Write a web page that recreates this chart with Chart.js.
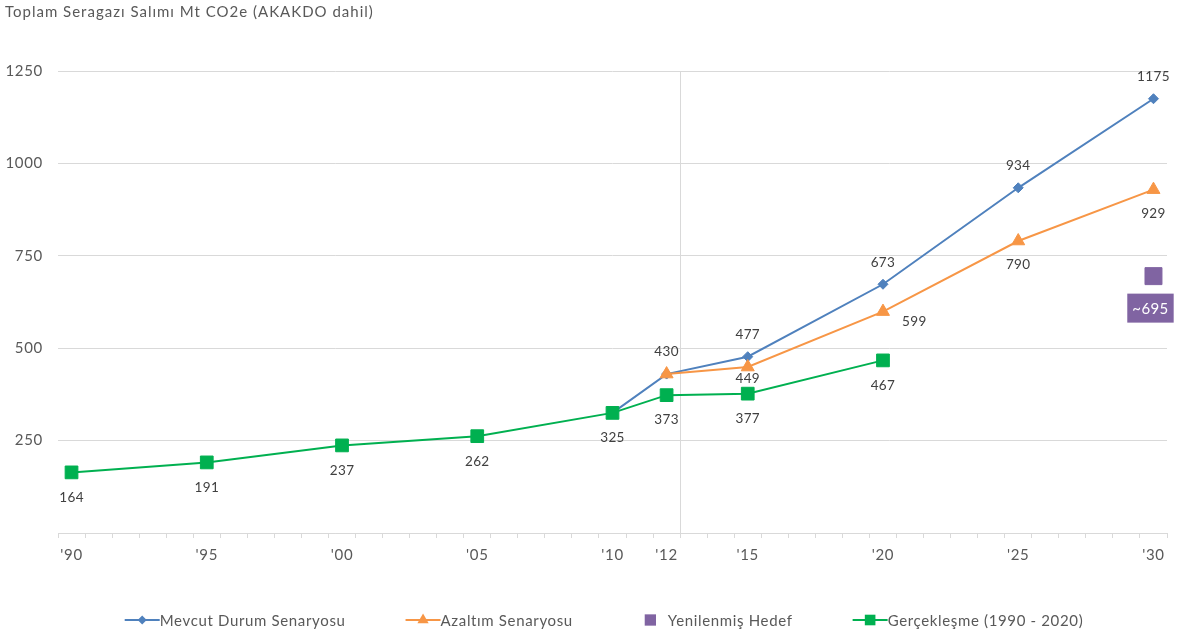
<!DOCTYPE html>
<html>
<head>
<meta charset="utf-8">
<title>Toplam Seragazı Salımı</title>
<script src="https://cdn.jsdelivr.net/npm/chart.js@4.4.1/dist/chart.umd.min.js"></script>
<style>
  html, body { margin: 0; padding: 0; background: #ffffff; }
  #wrap { width: 1180px; height: 637px; }
</style>
</head>
<body>
<div id="wrap"><canvas id="chart" width="1180" height="637"></canvas></div>
<script>
// ---- data (Mt CO2e) ----
const years = Array.from({ length: 41 }, (_, i) => 1990 + i);          // 1990 … 2030
const tickYears = [1990, 1995, 2000, 2005, 2010, 2012, 2015, 2020, 2025, 2030];

const baselineYears   = [2010, 2012, 2015, 2020, 2025, 2030];
const baselineValues  = [325, 430, 477, 673, 934, 1175];

const mitigationYears  = [2012, 2015, 2020, 2025, 2030];
const mitigationValues = [430, 449, 599, 790, 929];

const targetYears  = [2030];
const targetValues = [695];

const actualYears  = [1990, 1995, 2000, 2005, 2010, 2012, 2015, 2020];
const actualValues = [164, 191, 237, 262, 325, 373, 377, 467];

const chartTitle = 'Toplam Seragazı Salımı Mt CO2e (AKAKDO dahil)';

// ---- look ----
const FONT = 'Lato, "Open Sans", sans-serif';
const TEXT = '#595959';
const LABEL = '#404040';
const GRID = '#d9d9d9';
const BLUE = '#4f81bd', ORANGE = '#f79646', PURPLE = '#8064a2', GREEN = '#00b050';
const TRACKING = '0.7px';   // slightly open letter spacing for axis text

const toPoints = (xs, ys) => xs.map((x, i) => ({ x: String(x), y: ys[i] }));

// marker shapes used by the legend
function drawMarker(ctx, style, x, y, r, color) {
  ctx.fillStyle = color;
  ctx.beginPath();
  if (style === 'rectRot') {
    ctx.moveTo(x, y - r); ctx.lineTo(x + r, y); ctx.lineTo(x, y + r); ctx.lineTo(x - r, y);
  } else if (style === 'triangle') {
    const h = Math.sin(Math.PI / 3) * r;
    ctx.moveTo(x, y - r); ctx.lineTo(x + h, y + r / 2); ctx.lineTo(x - h, y + r / 2);
  } else {
    const s = r * Math.SQRT1_2;
    ctx.rect(x - s, y - s, 2 * s, 2 * s);
  }
  ctx.closePath();
  ctx.fill();
}

// letter spacing for the text the scales measure and draw
const tracking = {
  id: 'tracking',
  beforeUpdate(chart) { chart.ctx.letterSpacing = TRACKING; },
  beforeDraw(chart) { chart.ctx.letterSpacing = TRACKING; }
};

// title line at the top left
const headline = {
  id: 'headline',
  afterDraw(chart, args, opts) {
    const ctx = chart.ctx;
    ctx.save();
    ctx.letterSpacing = opts.spacing;
    ctx.font = opts.size + 'px ' + FONT;
    ctx.fillStyle = opts.color;
    ctx.textAlign = 'left';
    ctx.textBaseline = 'alphabetic';
    ctx.fillText(opts.text, opts.x, opts.y);
    ctx.restore();
  }
};

// value labels next to the points
const pointValues = {
  id: 'pointValues',
  afterDatasetsDraw(chart, args, opts) {
    const ctx = chart.ctx;
    chart.data.datasets.forEach((ds, di) => {
      const spec = ds.valueLabels;
      if (!spec || !chart.isDatasetVisible(di)) return;
      const meta = chart.getDatasetMeta(di);
      meta.data.forEach((el, j) => {
        const d = ds.data[j];
        const place = (spec.at && d.x in spec.at) ? spec.at[d.x] : spec.place;
        if (!place) return;
        const [where, dx, dy] = place;
        const text = (spec.prefix || '') + d.y;
        ctx.save();
        ctx.letterSpacing = opts.spacing;
        ctx.font = spec.size + 'px ' + FONT;
        ctx.textBaseline = 'middle';
        ctx.textAlign = where === 'right' ? 'left' : 'center';
        const x = el.x + dx, y = el.y + dy;
        if (spec.box) {
          const w = ctx.measureText(text).width + spec.boxPad * 2;
          ctx.fillStyle = spec.box;
          ctx.fillRect(x - w / 2, y - spec.boxH / 2, w, spec.boxH);
          ctx.fillStyle = '#ffffff';
        } else {
          ctx.fillStyle = LABEL;
        }
        ctx.fillText(text, x, y + 1);
        ctx.restore();
      });
    });
  }
};

// one-row legend: line + marker, then the series name
const legendRow = {
  id: 'legendRow',
  afterDraw(chart, args, opts) {
    const ctx = chart.ctx;
    ctx.save();
    ctx.letterSpacing = opts.spacing;
    ctx.font = opts.size + 'px ' + FONT;
    const items = chart.data.datasets.map(ds => ({ ds, w: ctx.measureText(ds.label).width }));
    const total = items.reduce((s, it) => s + opts.icon + it.w, 0) + opts.gap * (items.length - 1);
    let x = opts.center - total / 2;
    const y = opts.y;
    items.forEach(({ ds, w }) => {
      const mid = x + opts.icon / 2;
      if (ds.showLine !== false) {
        ctx.strokeStyle = ds.borderColor;
        ctx.lineWidth = 2;
        ctx.beginPath(); ctx.moveTo(x, y); ctx.lineTo(x + opts.icon, y); ctx.stroke();
      }
      drawMarker(ctx, ds.pointStyle, mid, y, ds.legendRadius, ds.borderColor);
      ctx.fillStyle = opts.color;
      ctx.textAlign = 'left';
      ctx.textBaseline = 'middle';
      ctx.fillText(ds.label, x + opts.icon, y + 1);
      x += opts.icon + w + opts.gap;
    });
    ctx.restore();
  }
};

const datasets = [
  {
    label: 'Mevcut Durum Senaryosu',
    data: toPoints(baselineYears, baselineValues),
    borderColor: BLUE, backgroundColor: BLUE,
    pointStyle: 'rectRot', pointRadius: 5, legendRadius: 4.5,
    order: 3,
    valueLabels: { size: 13.5, place: ['above', 0, -23], at: { '2010': null } }
  },
  {
    label: 'Azaltım Senaryosu',
    data: toPoints(mitigationYears, mitigationValues),
    borderColor: ORANGE, backgroundColor: ORANGE,
    pointStyle: 'triangle', pointRadius: 7.5, legendRadius: 6.5,
    order: 2,
    valueLabels: { size: 13.5, place: ['below', 0, 23], at: { '2012': null, '2015': ['below', 0, 11], '2020': ['right', 19, 9] } }
  },
  {
    label: 'Yenilenmiş Hedef',
    data: toPoints(targetYears, targetValues),
    borderColor: PURPLE, backgroundColor: PURPLE,
    pointStyle: 'rect', pointRadius: 12, legendRadius: 8,
    showLine: false,
    order: 1,
    valueLabels: { size: 15, place: ['below', -3, 32], prefix: '~', box: PURPLE, boxPad: 5, boxH: 29 }
  },
  {
    label: 'Gerçekleşme (1990 - 2020)',
    data: toPoints(actualYears, actualValues),
    borderColor: GREEN, backgroundColor: GREEN,
    pointStyle: 'rect', pointRadius: 9, legendRadius: 7.5,
    order: 0,
    valueLabels: { size: 13.5, place: ['below', 0, 24] }
  }
];

new Chart(document.getElementById('chart'), {
  type: 'line',
  data: { labels: years.map(String), datasets },
  plugins: [tracking, headline, pointValues, legendRow],
  options: {
    responsive: false,
    animation: false,
    devicePixelRatio: 1,
    spanGaps: true,
    elements: {
      line: { borderWidth: 2, tension: 0 },
      point: { borderWidth: 1, hoverRadius: 8 }
    },
    layout: { padding: { left: 5, right: 13, top: 71, bottom: 65 } },
    scales: {
      x: {
        type: 'category',
        offset: true,
        grid: {
          offset: true,
          drawOnChartArea: true,
          color: ctx => ctx.index === 23 ? GRID : 'rgba(0,0,0,0)',
          tickColor: GRID,
          tickLength: 5,
          lineWidth: 1
        },
        border: { color: GRID, width: 1 },
        ticks: {
          autoSkip: false,
          maxRotation: 0,
          padding: 8,
          color: TEXT,
          font: { family: FONT, size: 15 },
          callback: (v, i) => tickYears.includes(years[i]) ? "'" + String(years[i]).slice(2) : ''
        }
      },
      y: {
        min: 0, max: 1250,
        afterFit: scale => { scale.width = 53; },
        ticks: {
          stepSize: 250,
          padding: 15,
          color: TEXT,
          font: { family: FONT, size: 15 },
          callback: v => v === 0 ? '' : v
        },
        grid: { color: GRID, drawTicks: false, lineWidth: 1 },
        border: { display: false }
      }
    },
    plugins: {
      legend: { display: false },
      title: { display: false },
      tooltip: { enabled: true },
      headline: { text: chartTitle, x: 5, y: 16.5, size: 15, spacing: '1px', color: TEXT },
      pointValues: { spacing: '0.4px' },
      legendRow: { size: 15, spacing: '0.65px', icon: 35, gap: 60, center: 604, y: 620, color: TEXT }
    }
  }
});
</script>
</body>
</html>
